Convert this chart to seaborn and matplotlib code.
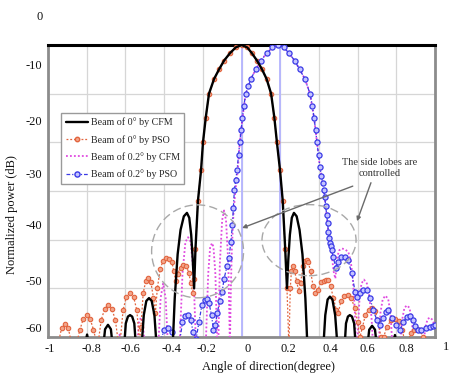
import matplotlib
matplotlib.use("Agg")
import matplotlib.pyplot as plt
import seaborn as sns
from matplotlib.patches import Ellipse
from matplotlib.transforms import ScaledTranslation
from matplotlib.lines import Line2D

sns.set_theme(style="white")
plt.rcParams['font.family'] = ['Liberation Serif', 'DejaVu Serif']

# ---------------- data (angle in degree, level in dB) ----------------
black_x = [-0.81, -0.798, -0.786,
           -0.72, -0.705, -0.69, -0.675, -0.66,
           -0.61, -0.598, -0.587, -0.576, -0.565, -0.554, -0.542,
           -0.52, -0.505, -0.492, -0.478, -0.464, -0.45, -0.435,
           -0.36, -0.345, -0.33, -0.315, -0.298, -0.282, -0.27, -0.26, -0.252, -0.245,
           -0.238, -0.225, -0.209, -0.199, -0.185, -0.168, -0.142, -0.116, -0.09, -0.06, -0.03, 0.0,
           0.03, 0.054, 0.08, 0.106, 0.13, 0.153, 0.17, 0.183, 0.199, 0.213, 0.226, 0.235,
           0.242, 0.25, 0.26, 0.271, 0.285, 0.30, 0.315, 0.33, 0.345,
           0.42, 0.433, 0.445, 0.457, 0.47, 0.484, 0.50,
           0.53, 0.54, 0.55, 0.56, 0.571, 0.582, 0.594,
           0.645, 0.66, 0.675, 0.69, 0.705,
           0.78, 0.793, 0.806]
black_db = [-62, -59.5, -62,
            -64, -58.4, -57.5, -58.4, -64,
            -64, -57.2, -55.8, -55.5, -55.8, -57.2, -64,
            -64, -55.5, -52.6, -52.0, -52.6, -55.5, -64,
            -66, -52, -43, -38, -35.2, -34.5, -35.5, -39, -44, -50,
            -42, -32, -25.7, -20, -15, -10, -7, -5, -3.2, -1.7, -0.5, 0,
            -0.5, -1.7, -3.2, -5, -7, -10, -15, -20, -25.7, -32, -42, -50,
            -44, -39, -35.5, -34.5, -35.2, -38, -43, -52, -66,
            -64, -55.5, -52.3, -51.7, -52.3, -55.5, -64,
            -64, -57.2, -55.8, -55.5, -55.8, -57.2, -64,
            -64, -58.5, -57.7, -58.5, -64,
            -62, -59.6, -62]

red_x = [-0.96, -0.945, -0.93, -0.912, -0.895, -0.88, -0.865,
         -0.85, -0.835, -0.818, -0.80, -0.782, -0.765, -0.75,
         -0.74, -0.725, -0.707, -0.688, -0.67, -0.652, -0.637,
         -0.627, -0.612, -0.595, -0.576, -0.558, -0.541, -0.527,
         -0.52, -0.508, -0.495, -0.482, -0.468, -0.455, -0.445,
         -0.435, -0.42, -0.405, -0.39, -0.375, -0.36, -0.35, -0.34, -0.33, -0.315, -0.30, -0.285,
         -0.272, -0.262, -0.252,
         -0.245, -0.238, -0.225, -0.209, -0.199, -0.185, -0.168, -0.142, -0.116, -0.09, -0.06, -0.03,
         0.0, 0.03, 0.054, 0.08, 0.106, 0.13, 0.153, 0.17, 0.183, 0.199, 0.213, 0.226, 0.235,
         0.245, 0.252, 0.258, 0.265, 0.275, 0.285, 0.295, 0.305, 0.318, 0.33, 0.337, 0.345, 0.357,
         0.37, 0.382, 0.395, 0.41, 0.425, 0.437, 0.447, 0.46, 0.475, 0.49, 0.5,
         0.515, 0.532, 0.55, 0.567, 0.585, 0.60, 0.612,
         0.625, 0.64, 0.657, 0.674, 0.69, 0.705, 0.72,
         0.735, 0.75, 0.772, 0.793, 0.812, 0.83, 0.845,
         0.86, 0.875, 0.892, 0.907, 0.922, 0.938, 0.95]
red_db = [-66, -61, -58.2, -57.4, -58.2, -61, -66,
          -61, -58.5, -56.3, -55.5, -56.3, -58.5, -61,
          -61, -56.5, -54.2, -53.4, -54.2, -56.5, -61,
          -61, -54.5, -51.7, -50.9, -51.7, -54.5, -61,
          -58, -51, -48.5, -47.9, -48.8, -52, -55,
          -50, -46, -44.3, -43.8, -43.9, -44.5, -46.5, -48.5, -47, -45.8, -45.2, -45.5,
          -46.8, -49, -51,
          -48, -42, -32, -25.7, -20, -15, -10, -7, -5, -3.2, -1.7, -0.5,
          0, -0.5, -1.7, -3.2, -5, -7, -10, -15, -20, -25.7, -32, -42, -50,
          -62, -50, -46.5, -45.5, -46.5, -48.5, -50.5, -49, -45.5, -44.3, -44.2, -44.6, -46.5,
          -49.5, -51, -50.3, -48.8, -48.5, -48.3, -48.3, -49.5, -52, -54.5, -55,
          -52.5, -51.6, -51.4, -52, -54, -57, -60,
          -58, -55.5, -54.4, -54.1, -54.6, -56.5, -60,
          -60, -58, -56.6, -56.3, -56.8, -58.5, -61,
          -61, -59.2, -58.5, -58.3, -58.6, -60, -62]

mag_x = [-0.64, -0.63, -0.62,
         -0.54, -0.53, -0.52, -0.51, -0.50,
         -0.43, -0.418, -0.405, -0.392, -0.38,
         -0.32, -0.305, -0.29, -0.276, -0.262, -0.248, -0.235,
         -0.185, -0.172, -0.162, -0.152, -0.145, -0.135, -0.125,
         -0.12, -0.112, -0.10, -0.09, -0.08, -0.068, -0.06,
         -0.055, -0.05, -0.042, -0.032, -0.019, -0.009, 0.005, 0.022, 0.048, 0.074, 0.10, 0.13, 0.16, 0.19,
         0.22, 0.245, 0.275, 0.30, 0.328, 0.354, 0.375, 0.39, 0.405, 0.42, 0.43, 0.44, 0.449, 0.457,
         0.466, 0.476, 0.485, 0.495, 0.505, 0.518, 0.535, 0.552, 0.565, 0.575, 0.585, 0.592,
         0.60, 0.61, 0.62, 0.633, 0.648, 0.66, 0.672, 0.68,
         0.708, 0.718, 0.73, 0.744, 0.758, 0.77, 0.78,
         0.82, 0.83, 0.842, 0.855, 0.868, 0.88, 0.89,
         0.94, 0.95, 0.962, 0.974, 0.988, 1.0]
mag_db = [-62, -59.5, -62,
          -62, -57, -56, -57, -62,
          -62, -52, -49, -52, -62,
          -62, -47, -40.5, -39.5, -40.5, -47, -62,
          -62, -47, -41.5, -40.7, -41.5, -47, -62,
          -62, -45, -36, -34, -36, -45, -62,
          -50, -42, -35, -30, -25.7, -20, -15, -10, -7, -5, -3.2, -1.7, -0.5, 0,
          -0.5, -1.7, -3.2, -5, -7, -10, -15, -20, -25, -28.4, -31.2, -34.9, -38.4, -40.7,
          -43, -46.5, -48, -43.5, -42.2, -41.8, -42, -42.5, -44.5, -48, -54, -62,
          -60, -52, -49, -48.2, -49, -51.5, -56, -62,
          -62, -55, -52.2, -51.5, -52.2, -55, -62,
          -62, -56.5, -54, -53.5, -54, -56.5, -62,
          -62, -58, -56.3, -56, -56.5, -58]

blue_x = [-0.45, -0.42, -0.40, -0.38, -0.36, -0.345, -0.32, -0.305, -0.29, -0.276, -0.262, -0.25,
          -0.235, -0.22, -0.205, -0.19, -0.18, -0.168, -0.155, -0.145, -0.135, -0.125, -0.112, -0.10,
          -0.09, -0.075, -0.065, -0.055, -0.047, -0.042, -0.037, -0.03, -0.023, -0.015, -0.009, -0.002,
          0.005, 0.012, 0.022, 0.035, 0.048, 0.074,
          0.10, 0.13, 0.16, 0.19, 0.22, 0.245, 0.275, 0.30, 0.328, 0.354, 0.366, 0.375, 0.383, 0.39,
          0.398, 0.405, 0.413, 0.42, 0.425, 0.43, 0.435, 0.44, 0.445, 0.449, 0.453, 0.457, 0.462, 0.466,
          0.473, 0.488, 0.50, 0.515, 0.535, 0.55, 0.57, 0.587, 0.597,
          0.61, 0.628, 0.649, 0.665, 0.68, 0.70, 0.715, 0.73, 0.745, 0.757, 0.78, 0.80, 0.819, 0.835,
          0.855, 0.87, 0.885, 0.898, 0.912, 0.93, 0.955, 0.974, 0.99, 1.0]
blue_db = [-64, -61, -58.6, -58.1, -59, -62, -61, -57, -55.7, -55.5, -56.5, -59,
           -60.5, -57, -53.5, -52.3, -52.2, -53, -55.5, -58.5, -57.5, -55, -52.5, -50.7,
           -48, -45.5, -43.8, -40.5, -37, -33.5, -29.8, -27.8, -25.7, -22.5, -20, -17.5,
           -15, -12.5, -10, -8.5, -7, -5,
           -3.2, -1.7, -0.5, 0, -0.5, -1.7, -3.2, -5, -7, -10, -12.5, -15, -17.5, -20,
           -22.5, -25, -27, -28.4, -29.8, -31.2, -33, -34.9, -36.6, -38.4, -39.6, -40.7, -41.4, -42.1,
           -43.5, -45.8, -44.5, -43.6, -43.5, -44.2, -46.9, -50.7, -51.7,
           -51, -50.4, -50.3, -52, -54.5, -56.5, -57.5, -56, -54.8, -54.5, -56, -57.5, -58.6, -57,
           -55.8, -55.7, -56.5, -57.8, -58.6, -58.5, -58.2, -58, -57.8, -57.5]

legend_labels = ["Beam of 0° by CFM", "Beam of 0° by PSO",
                 "Beam of 0.2° by CFM", "Beam of 0.2° by PSO"]
x_ticks = [-1, -0.8, -0.6, -0.4, -0.2, 0, 0.2, 0.4, 0.6, 0.8, 1]
x_tick_labels = ["-1", "-0.8", "-0.6", "-0.4", "-0.2", "0", "0.2", "0.4", "0.6", "0.8", "1"]
y_ticks = [0, -10, -20, -30, -40, -50, -60]
y_tick_labels = ["0", "-10", "-20", "-30", "-40", "-50", "-60"]

# ---------------- figure ----------------
fig = plt.figure(figsize=(4.51, 3.74), dpi=100)
ax = fig.add_axes([48 / 451, 1 - 337 / 374, 387 / 451, 292 / 374])
ax.set_xlim(-1, 1)
ax.set_ylim(-60, 0)

ax.set_xticks(x_ticks)
ax.set_xticklabels(x_tick_labels)
ax.set_yticks(y_ticks)
ax.set_yticklabels(y_tick_labels)
ax.grid(True, color='#d6d6d6', lw=0.9)
ax.set_axisbelow(True)
ax.tick_params(length=0, labelsize=9, pad=4, colors='#111111')
for v in (0, 0.2):
    ax.axvline(v, color='#b4b4ff', lw=1.3, zorder=1)

red_c = '#e2643e'
blue_c = '#3a3ae6'
mag_c = '#e04ae0'

sns.lineplot(x=mag_x, y=mag_db, ax=ax, color=mag_c, linestyle=(0, (1, 1.2)), linewidth=1.3,
             estimator=None, sort=False, zorder=3)
sns.lineplot(x=red_x, y=red_db, ax=ax, color=red_c, linestyle=(0, (1.5, 1.5)), linewidth=0.9,
             marker='o', markersize=3.2, markerfacecolor='#f2a58a', markeredgecolor=red_c,
             markeredgewidth=0.8, estimator=None, sort=False, zorder=4)
sns.lineplot(x=blue_x, y=blue_db, ax=ax, color=blue_c, linestyle=(0, (3, 1.5, 1, 1.5)), linewidth=0.9,
             marker='o', markersize=3.7, markerfacecolor='#c4c4ff', markeredgecolor=blue_c,
             markeredgewidth=0.9, estimator=None, sort=False, zorder=4)
sns.lineplot(x=black_x, y=black_db, ax=ax, color='black', linewidth=1.7,
             estimator=None, sort=False, zorder=5)

# spines
for s in ('left', 'bottom', 'right'):
    ax.spines[s].set_color('#8c8c8c')
    ax.spines[s].set_linewidth(2.0)
ax.spines['top'].set_color('black')
ax.spines['top'].set_linewidth(2.2)

# shift tick labels to match the reference placement
y_shift = {0: 30, -10: 29, -20: 22, -30: 18, -40: 15, -50: 8, -60: 9}
for lab, v in zip(ax.get_yticklabels(), y_ticks):
    lab.set_transform(lab.get_transform() + ScaledTranslation(0, y_shift[v] / 100, fig.dpi_scale_trans))
x_shift = [2, 5, 5, 7, 4, 6.5, 8, 11, 10, 10, 11]
for lab, dx, v in zip(ax.get_xticklabels(), x_shift, x_ticks):
    dy = 2 if v == 1 else 0
    lab.set_transform(lab.get_transform() + ScaledTranslation(dx / 100, dy / 100, fig.dpi_scale_trans))

# dashed circles
ell_kw = dict(fill=False, edgecolor='#a8a8a8', linestyle=(0, (6, 3)), linewidth=1.0, zorder=6)
ax.add_patch(Ellipse((-0.227, -42.4), 0.475, 19.1, **ell_kw))
ax.add_patch(Ellipse((0.349, -40.1), 0.486, 14.6, **ell_kw))

# annotation
ax.text(0.716, -25.2, "The side lobes are\ncontrolled", ha='center', va='center',
        fontsize=7.5, color='#333333', linespacing=1.3, zorder=7)
arrow_kw = dict(arrowstyle='-|>', color='#6a6a6a', lw=1.0, mutation_scale=6, shrinkA=0, shrinkB=0)
ax.annotate("", xy=(0.003, -37.6), xytext=(0.575, -29.0), arrowprops=arrow_kw, zorder=7)
ax.annotate("", xy=(0.597, -36.2), xytext=(0.669, -28.3), arrowprops=arrow_kw, zorder=7)

# legend
handles = [
    Line2D([], [], color='black', lw=1.7),
    Line2D([], [], color=red_c, lw=0.9, linestyle=(0, (1.5, 1.5)), marker='o', markersize=3.2,
           markerfacecolor='#f2a58a', markeredgecolor=red_c),
    Line2D([], [], color=mag_c, lw=1.3, linestyle=(0, (1, 1.2))),
    Line2D([], [], color=blue_c, lw=0.9, linestyle=(0, (3, 1.5, 1, 1.5)), marker='o', markersize=3.7,
           markerfacecolor='#c4c4ff', markeredgecolor=blue_c),
]
leg = ax.legend(handles, legend_labels, loc='upper left', bbox_to_anchor=(0.034, 0.767),
                borderaxespad=0, fontsize=7.2, frameon=True, fancybox=False, framealpha=1,
                edgecolor='#9a9a9a', handlelength=2.2, handletextpad=0.3, labelspacing=0.75,
                borderpad=0.45, markerscale=1.0)
leg.get_frame().set_linewidth(1.0)
leg.set_zorder(8)

fig.text(268 / 451, 1 - 367 / 374, "Angle of direction(degree)", ha='center', va='center',
         fontsize=9, color='#111111')
fig.text(12 / 451, 1 - 215 / 374, "Normalized power (dB)", ha='center', va='center',
         rotation=90, fontsize=9, color='#111111')

fig.savefig("out.png", dpi=100)
